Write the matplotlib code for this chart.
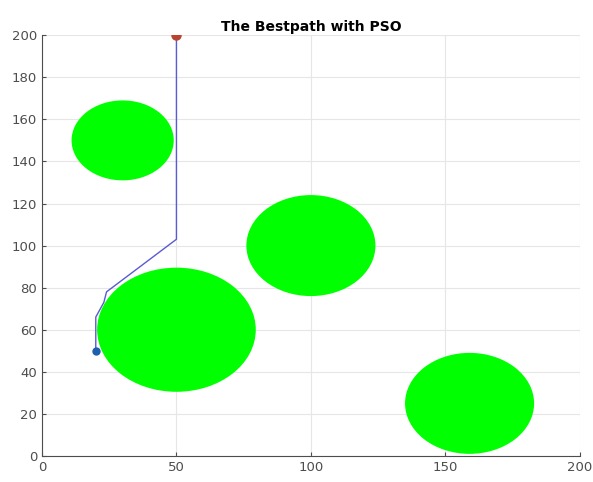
import numpy as np
import matplotlib.pyplot as plt
from matplotlib.patches import Circle

# obstacles
cx = [30, 100, 50, 159]
cy = [150, 100, 60, 25]
cr = [19, 24, 29.5, 24]

# best path
px = [20, 20, 23, 24, 50, 50]
py = [50, 66, 73, 78, 103, 200]

start = (20, 50)
goal = (50, 200)

fig = plt.figure(figsize=(5.93, 4.82), dpi=100)
ax = fig.add_axes([0.0708, 0.054, 0.907, 0.873])

for x, y, r in zip(cx, cy, cr):
    ax.add_patch(Circle((x, y), r, facecolor='#00ff00', edgecolor='none', zorder=2))

ax.plot(px, py, '-', color='#5a5ad2', lw=1.0, zorder=3)
ax.plot(start[0], start[1], 'o', color='#1f5fb0', ms=5, zorder=4)
ax.plot(goal[0], goal[1], 'o', color='#b8442e', ms=6.5, zorder=4)

ax.set_xlim(0, 200)
ax.set_ylim(0, 200)
ax.set_xticks(np.arange(0, 201, 50))
ax.set_yticks(np.arange(0, 201, 20))
ax.grid(True, color='#e6e6e6', lw=0.8)
ax.set_axisbelow(True)
for s in ['top', 'right']:
    ax.spines[s].set_visible(False)
for s in ['left', 'bottom']:
    ax.spines[s].set_color('#4d4d4d')
    ax.spines[s].set_linewidth(0.8)
ax.tick_params(labelsize=9.5, colors='#4d4d4d', direction='in', length=3)
ax.set_title('The Bestpath with PSO', fontsize=10, fontweight='bold', pad=3)

fig.savefig('out.png', dpi=100)
